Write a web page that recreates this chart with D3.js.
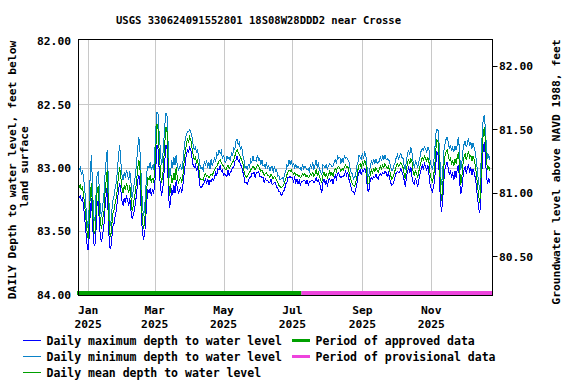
<!DOCTYPE html>
<html>
<head>
<meta charset="utf-8">
<script src="https://cdn.jsdelivr.net/npm/d3@7"></script>
<style>
body { margin: 0; background: #fff; }
text { font-family: "DejaVu Sans Mono", monospace; font-weight: bold; fill: #000; }
</style>
</head>
<body>
<svg width="576" height="384"></svg>
<script>
// daily values, first day 2024-12-24
var firstDay = Date.UTC(2024, 11, 24);

var maxDepth = [
83.24,83.22,83.26,83.24,83.30,83.40,83.50,83.60,83.65,83.54,
83.34,83.24,83.46,83.60,83.62,83.50,83.28,83.26,83.44,83.56,
83.58,83.52,83.46,83.32,83.22,83.14,83.44,83.63,83.64,83.56,
83.46,83.44,83.38,83.34,83.26,83.18,83.12,83.18,83.26,83.30,
83.24,83.28,83.22,83.26,83.30,83.24,83.34,83.40,83.38,83.34,
83.28,83.20,83.10,83.06,83.14,83.32,83.50,83.56,83.54,83.42,
83.26,83.18,83.20,83.16,83.22,83.18,83.20,83.14,83.00,82.82,
82.86,83.02,83.14,83.22,83.18,83.08,82.94,82.82,82.86,83.14,
83.32,83.28,83.16,83.22,83.14,83.20,83.10,83.16,83.20,83.18,
83.16,83.20,83.14,83.06,82.98,82.90,82.86,82.88,82.84,82.86,
82.92,82.98,83.00,82.98,83.02,83.00,83.06,83.14,83.16,83.15,
83.13,83.12,83.08,83.13,83.09,83.14,83.10,83.11,83.09,83.10,
83.08,83.04,83.06,83.01,83.02,82.98,83.03,83.02,83.06,83.05,
83.06,83.07,83.02,83.07,83.03,83.03,83.00,83.00,82.95,82.94,
82.91,82.95,82.94,82.98,82.99,83.03,83.07,83.12,83.12,83.13,
83.11,83.08,83.08,83.05,83.05,83.04,83.08,83.04,83.04,83.03,
83.07,83.07,83.08,83.08,83.12,83.09,83.10,83.10,83.12,83.12,
83.09,83.13,83.13,83.12,83.12,83.16,83.16,83.19,83.19,83.22,
83.21,83.18,83.18,83.13,83.12,83.08,83.08,83.07,83.08,83.08,
83.11,83.08,83.12,83.09,83.13,83.10,83.14,83.11,83.11,83.10,
83.10,83.13,83.10,83.14,83.11,83.11,83.10,83.10,83.12,83.11,
83.08,83.11,83.10,83.12,83.16,83.20,83.12,83.09,83.13,83.10,
83.15,83.10,83.09,83.11,83.09,83.13,83.08,83.06,83.09,83.05,
83.04,83.07,83.08,83.07,83.07,83.06,83.03,83.06,83.04,83.09,
83.12,83.16,83.19,83.19,83.21,83.17,83.14,83.07,83.04,83.02,
83.06,83.02,83.03,83.01,83.02,83.12,83.19,83.17,83.10,83.08,
83.09,83.07,83.08,83.05,83.08,83.09,83.06,83.05,83.06,83.04,
83.05,83.03,83.04,83.07,83.04,83.08,83.12,83.14,83.13,83.11,
83.07,83.04,83.03,83.04,83.04,83.01,83.03,83.06,83.10,83.15,
83.08,83.03,83.00,83.04,83.00,83.08,83.12,83.13,83.08,83.12,
83.15,83.10,83.05,83.02,82.98,83.01,82.97,83.00,83.02,82.98,
83.06,83.14,83.17,83.19,83.15,83.10,82.98,82.88,82.90,83.04,
83.24,83.35,83.28,83.12,83.02,82.98,82.96,83.00,83.06,83.02,
83.08,83.04,83.10,83.03,83.08,83.02,82.98,83.08,83.21,83.18,
83.08,83.02,82.99,83.05,83.01,82.97,83.04,83.00,83.06,83.01,
83.04,83.08,83.15,83.24,83.32,83.36,83.22,83.00,82.86,82.80,
82.92,83.08,83.12,83.09,83.12
];

var minDepth = [
83.02,83.00,83.05,83.03,83.08,83.16,83.30,83.42,83.48,83.30,
83.02,82.90,83.18,83.40,83.42,83.22,83.05,83.03,83.18,83.36,
83.38,83.30,83.22,83.06,82.94,82.86,83.12,83.42,83.46,83.34,
83.26,83.22,83.16,83.12,83.02,82.90,82.82,82.96,83.06,83.10,
83.04,83.08,83.02,83.06,83.10,83.03,83.12,83.24,83.18,83.12,
83.05,82.96,82.84,82.76,82.88,83.06,83.28,83.38,83.34,83.18,
83.04,82.99,83.00,82.96,83.02,82.98,83.02,82.90,82.70,82.56,
82.58,82.74,82.86,82.98,82.94,82.80,82.66,82.57,82.60,82.84,
83.08,83.06,82.94,83.00,82.92,82.98,82.90,82.98,83.02,83.00,
82.98,83.02,82.96,82.86,82.78,82.74,82.72,82.72,82.70,82.72,
82.76,82.82,82.86,82.84,82.88,82.86,82.92,82.98,83.01,83.00,
83.02,82.95,82.99,82.94,83.00,82.96,83.01,82.93,82.99,82.95,
82.93,82.95,82.89,82.91,82.86,82.89,82.87,82.93,82.90,82.95,
82.96,82.91,82.93,82.92,82.95,82.88,82.91,82.85,82.86,82.79,
82.78,82.82,82.80,82.86,82.83,82.90,82.93,83.00,82.99,83.02,
82.97,83.00,82.94,82.96,82.91,82.95,82.94,82.95,82.90,82.94,
82.93,82.98,82.94,82.99,82.98,83.00,82.96,83.01,82.98,83.03,
83.00,82.99,83.04,82.99,83.03,83.02,83.07,83.06,83.10,83.09,
83.08,83.10,83.05,83.04,82.98,82.99,82.94,82.98,82.94,82.99,
82.97,83.00,82.98,83.00,82.99,83.01,83.00,83.03,82.97,83.01,
82.99,83.00,83.02,83.01,83.03,82.97,83.01,82.96,83.02,82.98,
82.94,83.00,82.96,83.02,83.03,83.06,82.98,82.99,83.00,82.98,
83.01,82.99,82.97,82.98,82.99,82.99,82.96,82.94,82.97,82.91,
82.93,82.92,82.97,82.93,82.96,82.91,82.93,82.92,82.94,82.95,
83.00,83.04,83.05,83.09,83.08,83.06,82.99,82.96,82.90,82.92,
82.93,82.89,82.93,82.88,82.90,82.99,83.07,83.05,82.99,82.95,
82.98,82.93,82.97,82.93,82.97,82.96,82.95,82.91,82.95,82.90,
82.94,82.90,82.94,82.93,82.94,82.95,83.00,83.02,83.02,82.98,
82.96,82.92,82.90,82.93,82.91,82.89,82.92,82.93,82.99,83.02,
82.95,82.88,82.87,82.90,82.84,82.89,82.96,83.00,82.95,82.97,
83.00,82.95,82.92,82.87,82.85,82.86,82.84,82.85,82.88,82.84,
82.86,82.95,82.99,83.01,82.97,82.88,82.74,82.70,82.71,82.82,
83.00,83.14,83.06,82.88,82.82,82.78,82.76,82.80,82.85,82.82,
82.87,82.84,82.88,82.83,82.86,82.82,82.76,82.86,83.02,82.97,
82.87,82.82,82.79,82.84,82.81,82.77,82.83,82.80,82.85,82.81,
82.84,82.88,82.95,83.04,83.12,83.18,82.98,82.76,82.62,82.59,
82.70,82.86,82.93,82.90,82.94
];

var meanDepth = [
83.16,83.13,83.18,83.15,83.22,83.30,83.40,83.50,83.56,83.42,
83.20,83.12,83.35,83.50,83.52,83.38,83.18,83.15,83.32,83.45,
83.48,83.40,83.36,83.20,83.10,83.02,83.30,83.52,83.55,83.45,
83.36,83.33,83.28,83.24,83.16,83.06,83.00,83.08,83.16,83.20,
83.14,83.18,83.12,83.16,83.20,83.14,83.24,83.34,83.30,83.24,
83.18,83.10,83.00,82.94,83.02,83.20,83.40,83.48,83.44,83.30,
83.16,83.08,83.10,83.06,83.12,83.08,83.12,83.02,82.85,82.66,
82.70,82.88,83.02,83.12,83.08,82.95,82.80,82.68,82.72,82.98,
83.22,83.18,83.06,83.12,83.04,83.10,83.00,83.08,83.12,83.10,
83.08,83.12,83.06,82.96,82.88,82.82,82.78,82.80,82.76,82.78,
82.84,82.90,82.94,82.92,82.96,82.94,83.00,83.08,83.10,83.09,
83.10,83.06,83.05,83.07,83.06,83.08,83.07,83.05,83.06,83.04,
83.02,83.00,82.99,82.97,82.95,82.94,82.96,82.98,82.99,83.01,
83.02,83.00,82.98,83.01,82.99,82.97,82.96,82.94,82.91,82.88,
82.86,82.88,82.90,82.92,82.94,82.96,83.02,83.06,83.08,83.07,
83.05,83.04,83.02,83.01,82.99,83.00,83.02,83.00,82.98,82.99,
83.01,83.03,83.02,83.04,83.06,83.05,83.04,83.06,83.06,83.08,
83.05,83.07,83.09,83.07,83.08,83.10,83.12,83.14,83.15,83.16,
83.15,83.14,83.12,83.09,83.06,83.04,83.02,83.03,83.02,83.04,
83.05,83.04,83.06,83.05,83.07,83.06,83.08,83.07,83.05,83.06,
83.05,83.07,83.06,83.08,83.07,83.05,83.06,83.04,83.07,83.05,
83.02,83.06,83.04,83.07,83.10,83.12,83.06,83.04,83.07,83.05,
83.08,83.06,83.03,83.06,83.04,83.07,83.03,83.01,83.03,83.00,
82.99,83.01,83.03,83.01,83.02,83.00,82.98,83.00,82.99,83.03,
83.07,83.10,83.13,83.14,83.15,83.12,83.08,83.02,82.98,82.97,
83.00,82.96,82.98,82.95,82.96,83.06,83.13,83.12,83.05,83.02,
83.04,83.01,83.03,83.00,83.02,83.04,83.01,82.99,83.01,82.98,
83.00,82.97,82.99,83.01,82.99,83.02,83.06,83.09,83.08,83.05,
83.02,82.99,82.97,82.99,82.98,82.96,82.98,83.00,83.05,83.09,
83.02,82.96,82.94,82.97,82.93,82.96,83.04,83.07,83.02,83.05,
83.08,83.03,82.99,82.95,82.92,82.94,82.91,82.93,82.95,82.92,
82.96,83.05,83.09,83.11,83.07,83.00,82.86,82.78,82.80,82.92,
83.12,83.26,83.18,83.00,82.92,82.88,82.86,82.90,82.95,82.92,
82.98,82.94,82.99,82.93,82.97,82.92,82.88,82.97,83.14,83.08,
82.98,82.92,82.89,82.94,82.91,82.87,82.93,82.90,82.95,82.91,
82.94,82.98,83.05,83.14,83.22,83.28,83.10,82.88,82.74,82.68,
82.80,82.96,83.02,82.99,83.03
];

var depthTicks = [82.0, 82.5, 83.0, 83.5, 84.0];
var elevTicks = [82.0, 81.5, 81.0, 80.5];
var datum = 164.2;   // land surface elevation, feet NAVD88
var monthTicks = [Date.UTC(2025,0,1), Date.UTC(2025,2,1), Date.UTC(2025,4,1),
                  Date.UTC(2025,6,1), Date.UTC(2025,8,1), Date.UTC(2025,10,1)];
var approvedUntil = Date.UTC(2025, 6, 9);

var seriesNames = ["Daily maximum depth to water level", "Daily minimum depth to water level", "Daily mean depth to water level"];
var seriesColors = ["#0000ff", "#0a82c8", "#00a000"];
var periodNames = ["Period of approved data", "Period of provisional data"];
var periodColors = ["#00a000", "#ee44dd"];

var svg = d3.select("svg");
var L = 78.5, R = 492.5, T = 39.5, B = 295.5;

var x = d3.scaleUtc()
    .domain([Date.UTC(2024, 11, 23, 12), Date.UTC(2025, 11, 25, 6)])
    .range([L, R]);
var y = d3.scaleLinear().domain([81.992, 84.008]).range([T, B]);

var day = function(i) { return firstDay + i * 86400000; };

// grid
svg.append("g").selectAll("line")
    .data(depthTicks.slice(1, -1)).enter().append("line")
    .attr("x1", L).attr("x2", R)
    .attr("y1", function(d) { return Math.round(y(d)) + 0.5; })
    .attr("y2", function(d) { return Math.round(y(d)) + 0.5; })
    .attr("stroke", "#c8c8c8");
svg.append("g").selectAll("line")
    .data(monthTicks).enter().append("line")
    .attr("x1", function(d) { return Math.round(x(d)) + 0.5; })
    .attr("x2", function(d) { return Math.round(x(d)) + 0.5; })
    .attr("y1", T).attr("y2", B)
    .attr("stroke", "#c8c8c8");

svg.append("clipPath").attr("id", "plotclip")
  .append("rect").attr("x", L).attr("y", T).attr("width", R - L).attr("height", B - T);

var line = function(arr) {
  return d3.line()
    .x(function(d, i) { return x(day(i)); })
    .y(function(d) { return y(d); })(arr);
};

var series = [maxDepth, minDepth, meanDepth];
svg.append("g").attr("clip-path", "url(#plotclip)")
  .selectAll("path").data(series).enter().append("path")
    .attr("d", function(d) { return line(d); })
    .attr("fill", "none")
    .attr("stroke", function(d, i) { return seriesColors[i]; })
    .attr("stroke-width", 1)
    .attr("shape-rendering", "crispEdges");

// approval periods
svg.append("line")
    .attr("x1", L - 1.5).attr("x2", x(approvedUntil))
    .attr("y1", 293).attr("y2", 293)
    .attr("stroke", periodColors[0]).attr("stroke-width", 4);
svg.append("line")
    .attr("x1", x(approvedUntil)).attr("x2", R)
    .attr("y1", 293).attr("y2", 293)
    .attr("stroke", periodColors[1]).attr("stroke-width", 4);

// frame
svg.append("rect")
    .attr("x", L).attr("y", T).attr("width", R - L).attr("height", B - T)
    .attr("fill", "none").attr("stroke", "#000");

// left axis labels
svg.append("g").selectAll("text")
    .data(depthTicks).enter().append("text")
    .attr("x", 71).attr("y", function(d) { return y(d) + 4.5; })
    .attr("text-anchor", "end").style("font-size", "11.3px")
    .text(function(d) { return d.toFixed(2); });

// right axis
svg.append("g").selectAll("line")
    .data(elevTicks).enter().append("line")
    .attr("x1", R).attr("x2", R + 5)
    .attr("y1", function(d) { return Math.round(y(datum - d)) + 0.5; })
    .attr("y2", function(d) { return Math.round(y(datum - d)) + 0.5; })
    .attr("stroke", "#000");
svg.append("g").selectAll("text")
    .data(elevTicks).enter().append("text")
    .attr("x", 499).attr("y", function(d) { return y(datum - d) + 4.5; })
    .style("font-size", "11.3px")
    .text(function(d) { return d.toFixed(2); });

// month labels
var mlab = svg.append("g").selectAll("g")
    .data(monthTicks).enter().append("g");
mlab.append("text")
    .attr("x", function(d) { return x(d); }).attr("y", 314)
    .attr("text-anchor", "middle").style("font-size", "11.3px")
    .text(function(d) { return d3.utcFormat("%b")(new Date(d)); });
mlab.append("text")
    .attr("x", function(d) { return x(d); }).attr("y", 327.5)
    .attr("text-anchor", "middle").style("font-size", "11.3px")
    .text(function(d) { return d3.utcFormat("%Y")(new Date(d)); });

// titles
svg.append("text")
    .attr("x", 258.5).attr("y", 24)
    .attr("text-anchor", "middle").style("font-size", "10.8px")
    .attr("textLength", 285).attr("lengthAdjust", "spacingAndGlyphs")
    .text("USGS 330624091552801 18S08W28DDD2 near Crosse");

svg.append("text")
    .attr("transform", "translate(15.5,170) rotate(-90)")
    .attr("text-anchor", "middle").style("font-size", "11.3px")
    .text("DAILY Depth to water level, feet below");
svg.append("text")
    .attr("transform", "translate(27.5,167) rotate(-90)")
    .attr("text-anchor", "middle").style("font-size", "11.3px")
    .text("land surface");
svg.append("text")
    .attr("transform", "translate(560,172) rotate(-90)")
    .attr("text-anchor", "middle").style("font-size", "11.3px")
    .text("Groundwater level above NAVD 1988, feet");

// legend
var leg = svg.append("g").selectAll("g")
    .data(seriesNames).enter().append("g")
    .attr("transform", function(d, i) { return "translate(0," + (340.5 + i * 16) + ")"; });
leg.append("line")
    .attr("x1", 23).attr("x2", 41).attr("y1", 0).attr("y2", 0)
    .attr("stroke", function(d, i) { return seriesColors[i]; });
leg.append("text")
    .attr("x", 46.5).attr("y", 4.5).style("font-size", "11.5px")
    .text(function(d) { return d; });

var leg2 = svg.append("g").selectAll("g")
    .data(periodNames).enter().append("g")
    .attr("transform", function(d, i) { return "translate(0," + (340.5 + i * 16) + ")"; });
leg2.append("line")
    .attr("x1", 292).attr("x2", 310).attr("y1", 0).attr("y2", 0)
    .attr("stroke-width", 3)
    .attr("stroke", function(d, i) { return periodColors[i]; });
leg2.append("text")
    .attr("x", 315.5).attr("y", 4.5).style("font-size", "11.5px")
    .text(function(d) { return d; });
</script>
</body>
</html>
